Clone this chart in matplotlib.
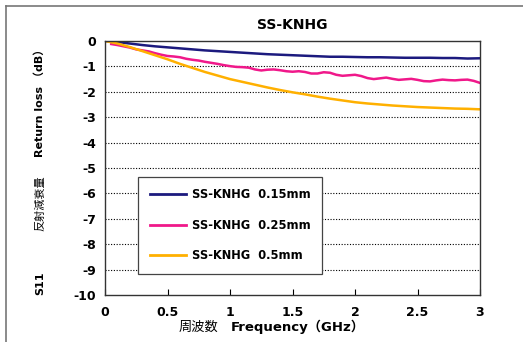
import numpy as np
import matplotlib
matplotlib.use("Agg")
from matplotlib import pyplot as plt
from matplotlib.lines import Line2D

plt.rcParams['font.family'] = ['DejaVu Sans', 'Noto Sans CJK JP']

# 0.15mm and 0.5mm read every 0.1 GHz
freq_a = [0.0, 0.1, 0.2, 0.3, 0.4, 0.5, 0.6, 0.7, 0.8, 0.9, 1.0,
          1.1, 1.2, 1.3, 1.4, 1.5, 1.6, 1.7, 1.8, 1.9, 2.0,
          2.1, 2.2, 2.3, 2.4, 2.5, 2.6, 2.7, 2.8, 2.9, 3.0]
rl_015 = [0.0, -0.04, -0.10, -0.16, -0.21, -0.25, -0.29, -0.33, -0.37, -0.40, -0.43,
          -0.46, -0.49, -0.52, -0.54, -0.56, -0.58, -0.60, -0.62, -0.62, -0.63,
          -0.64, -0.64, -0.65, -0.66, -0.66, -0.66, -0.67, -0.67, -0.69, -0.68]
rl_05 = [0.0, -0.10, -0.24, -0.40, -0.56, -0.72, -0.90, -1.06, -1.22, -1.36, -1.50,
         -1.61, -1.72, -1.83, -1.93, -2.02, -2.10, -2.19, -2.27, -2.34, -2.41,
         -2.46, -2.50, -2.54, -2.57, -2.60, -2.62, -2.64, -2.66, -2.67, -2.69]

# 0.25mm is wavy, read every 0.05 GHz
freq_b = [0.05, 0.10, 0.15, 0.20, 0.25, 0.30, 0.35, 0.40, 0.45, 0.50,
          0.55, 0.60, 0.65, 0.70, 0.75, 0.80, 0.85, 0.90, 0.95, 1.00,
          1.05, 1.10, 1.15, 1.20, 1.25, 1.30, 1.35, 1.40, 1.45, 1.50,
          1.55, 1.60, 1.65, 1.70, 1.75, 1.80, 1.85, 1.90, 1.95, 2.00,
          2.05, 2.10, 2.15, 2.20, 2.25, 2.30, 2.35, 2.40, 2.45, 2.50,
          2.55, 2.60, 2.65, 2.70, 2.75, 2.80, 2.85, 2.90, 2.95, 3.00]
rl_025 = [-0.12, -0.16, -0.21, -0.26, -0.33, -0.37, -0.41, -0.48, -0.54, -0.59,
          -0.61, -0.64, -0.70, -0.74, -0.77, -0.82, -0.86, -0.90, -0.95, -0.99,
          -1.02, -1.03, -1.05, -1.12, -1.16, -1.13, -1.12, -1.15, -1.19, -1.21,
          -1.19, -1.22, -1.28, -1.28, -1.23, -1.25, -1.33, -1.37, -1.35, -1.33,
          -1.38, -1.46, -1.50, -1.47, -1.44, -1.49, -1.53, -1.51, -1.49, -1.53,
          -1.58, -1.59, -1.55, -1.52, -1.54, -1.55, -1.53, -1.52, -1.57, -1.65]

labels = ['SS-KNHG  0.15mm', 'SS-KNHG  0.25mm', 'SS-KNHG  0.5mm']
colors = ['#1c1a7e', '#f0188a', '#ffb000']

fig = plt.figure(figsize=(5.23, 3.42), dpi=100)
ax = fig.add_axes([105/523, 1 - 295/342, 375/523, 254/342])

ax.plot(freq_a, rl_015, color=colors[0], lw=1.8, label=labels[0])
ax.plot(freq_b, rl_025, color=colors[1], lw=1.8, label=labels[1])
ax.plot(freq_a, rl_05, color=colors[2], lw=1.8, label=labels[2])

ax.set_xlim(0, 3)
ax.set_ylim(-10, 0)
ax.set_xticks(np.arange(0, 3.01, 0.5))
ax.set_xticklabels(['0', '0.5', '1', '1.5', '2', '2.5', '3'])
ax.set_yticks(np.arange(-10, 0.1, 1))
ax.set_yticklabels([str(v) for v in range(-10, 1)])
for t in ax.get_xticklabels() + ax.get_yticklabels():
    t.set_fontweight('bold')
    t.set_fontsize(9)
ax.tick_params(axis='x', direction='in', length=4, width=0.8, pad=8)
ax.tick_params(axis='y', length=0, pad=6.5)
for y in range(-9, 0):
    ax.axhline(y, color='black', lw=0.8, ls=(0, (1, 1.5)), zorder=0)
for s in ax.spines.values():
    s.set_color('#333333')
    s.set_linewidth(1.0)

leg = ax.legend(loc='upper left', bbox_to_anchor=(0.088, 0.465), borderaxespad=0,
                fancybox=False, framealpha=1, edgecolor='#444444',
                prop={'weight': 'bold', 'size': 8.3},
                handlelength=3.2, handletextpad=0.45, labelspacing=1.5,
                borderpad=1.0)
leg.get_frame().set_linewidth(0.9)
for h in leg.get_lines():
    h.set_linewidth(2.0)

# title and axis labels
fig.text(292/523, 1 - 25/342, 'SS-KNHG', ha='center', va='center', fontsize=10, fontweight='bold')
fig.text(198/523, 1 - 327/342, '周波数', ha='center', va='center', fontsize=9.5)
fig.text(298/523, 1 - 327/342, 'Frequency（GHz）', ha='center', va='center',
         fontsize=9.5, fontweight='bold')
fig.text(40/523, 1 - 283/342, 'S11', ha='center', va='center', rotation=90,
         fontsize=8, fontweight='bold')
fig.text(40/523, 1 - 203/342, '反射減衰量', ha='center', va='center', rotation=90, fontsize=8)
fig.text(40/523, 1 - 100/342, 'Return loss （dB）', ha='center', va='center', rotation=90,
         fontsize=8, fontweight='bold')

# cropped outer frame (top and left only)
fig.add_artist(Line2D([6/523, 1], [1 - 6/342, 1 - 6/342], color='#777777', lw=1.2))
fig.add_artist(Line2D([6/523, 6/523], [0, 1 - 6/342], color='#777777', lw=1.2))

fig.savefig('out.png', dpi=100)
